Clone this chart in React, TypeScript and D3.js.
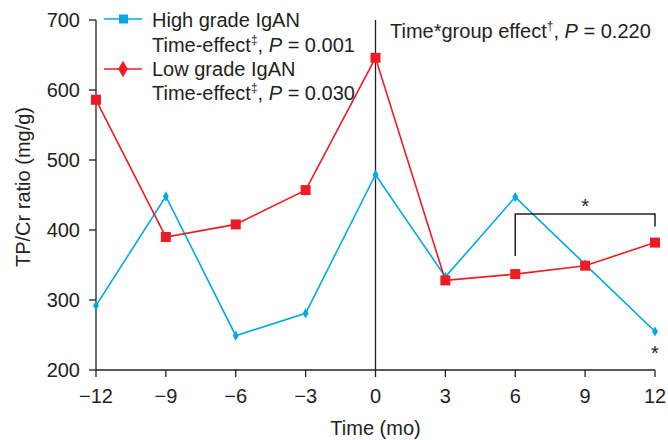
import React from "react"
import * as d3 from "d3"

const months = [-12, -9, -6, -3, 0, 3, 6, 9, 12]
const highGrade = [292, 448, 249, 281, 479, 333, 447, 351, 255]
const lowGrade = [586, 390, 408, 457, 646, 328, 337, 349, 382]
const yTicks = [200, 300, 400, 500, 600, 700]

const BLUE = "#00a9e6"
const RED = "#ed1c24"
const INK = "#231f20"
const FONT = "'Liberation Sans', Arial, Helvetica, sans-serif"
const FS = 20

export default function App() {
  const width = 668
  const height = 440
  const margin = { left: 96, right: 13, top: 20, bottom: 70 }

  const x = d3.scaleLinear().domain([-12, 12]).range([margin.left, width - margin.right])
  const y = d3.scaleLinear().domain([200, 700]).range([height - margin.bottom, margin.top])

  const line = d3
    .line<number>()
    .x((_, i) => x(months[i]))
    .y(d => y(d))

  const diamond = d3.symbol().type(d3.symbolDiamond).size(30)()

  return (
    <svg
      width={width}
      height={height}
      style={{ position: "absolute", left: 0, top: 0, background: "#fff" }}
      fontFamily={FONT}
      fill={INK}
    >
      {/* axes */}
      <line x1={x(-12)} x2={x(-12)} y1={y(700)} y2={y(200)} stroke={INK} strokeWidth={1.3} />
      <line x1={x(-12)} x2={x(12)} y1={y(200)} y2={y(200)} stroke={INK} strokeWidth={1.3} />
      {yTicks.map(t => (
        <g key={t}>
          <line x1={x(-12) - 7} x2={x(-12)} y1={y(t)} y2={y(t)} stroke={INK} strokeWidth={1.3} />
          <text x={80} y={y(t) + 7} fontSize={FS} textAnchor="end">{t}</text>
        </g>
      ))}
      {months.map(m => (
        <g key={m}>
          <line x1={x(m)} x2={x(m)} y1={y(200)} y2={y(200) + 7} stroke={INK} strokeWidth={1.3} />
          <text x={x(m)} y={y(200) + 33} fontSize={FS} textAnchor="middle">
            {m < 0 ? "\u2212" + Math.abs(m) : m}
          </text>
        </g>
      ))}
      <text x={x(0)} y={435} fontSize={FS} textAnchor="middle">Time (mo)</text>
      <text transform="translate(30,187) rotate(-90)" fontSize={FS} textAnchor="middle">
        TP/Cr ratio (mg/g)
      </text>

      {/* vertical reference at time 0 */}
      <line x1={x(0)} x2={x(0)} y1={y(700)} y2={y(200)} stroke={INK} strokeWidth={1.3} />

      {/* series */}
      <path d={line(highGrade) || ""} fill="none" stroke={BLUE} strokeWidth={1.6} />
      <path d={line(lowGrade) || ""} fill="none" stroke={RED} strokeWidth={1.6} />
      {highGrade.map((v, i) => (
        <path key={i} d={diamond || ""} transform={`translate(${x(months[i])},${y(v)})`} fill={BLUE} />
      ))}
      {lowGrade.map((v, i) => (
        <rect key={i} x={x(months[i]) - 5} y={y(v) - 5} width={10} height={10} fill={RED} />
      ))}

      {/* significance bracket */}
      <path
        d={`M${x(6)},${y(363)}V${y(423)}H${x(12)}V${y(405)}`}
        fill="none"
        stroke={INK}
        strokeWidth={1.5}
      />
      <text x={x(9)} y={213} fontSize={FS} textAnchor="middle">*</text>
      <text x={x(12)} y={360} fontSize={FS} textAnchor="middle">*</text>

      {/* legend */}
      <line x1={104} x2={142} y1={19} y2={19} stroke={BLUE} strokeWidth={1.6} />
      <rect x={119} y={14.5} width={9} height={9} fill={BLUE} />
      <text x={152} y={27} fontSize={FS}>High grade IgAN</text>
      <text x={152} y={52} fontSize={FS}>
        Time-effect<tspan dy={-8} fontSize={12}>‡</tspan>
        <tspan dy={8}>, </tspan>
        <tspan fontStyle="italic">P</tspan> = 0.001
      </text>
      <line x1={104} x2={142} y1={69} y2={69} stroke={RED} strokeWidth={1.6} />
      <path d={d3.symbol().type(d3.symbolDiamond).size(80)() || ""} transform="translate(123,69)" fill={RED} />
      <text x={152} y={76} fontSize={FS}>Low grade IgAN</text>
      <text x={152} y={100} fontSize={FS}>
        Time-effect<tspan dy={-8} fontSize={12}>‡</tspan>
        <tspan dy={8}>, </tspan>
        <tspan fontStyle="italic">P</tspan> = 0.030
      </text>

      <text x={390} y={38} fontSize={FS}>
        Time*group effect<tspan dy={-8} fontSize={12}>†</tspan>
        <tspan dy={8}>, </tspan>
        <tspan fontStyle="italic">P</tspan> = 0.220
      </text>
    </svg>
  )
}
